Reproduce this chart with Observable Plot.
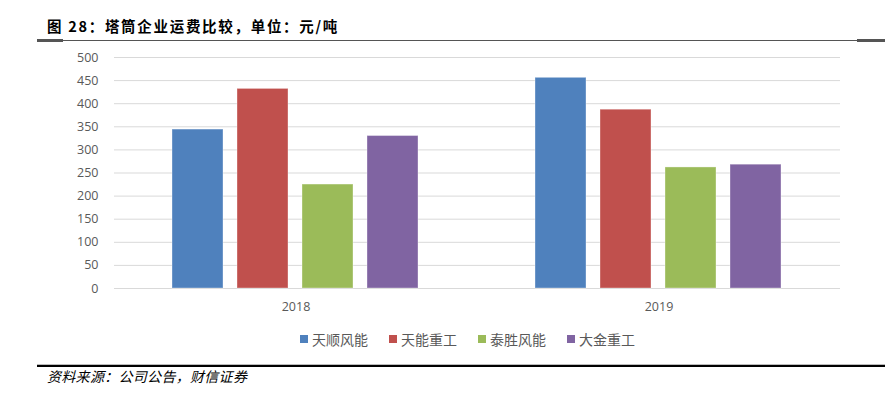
<!DOCTYPE html>
<html><head><meta charset="utf-8">
<script src="https://cdn.jsdelivr.net/npm/d3@7"></script>
<script src="https://cdn.jsdelivr.net/npm/@observablehq/plot@0.6"></script>
<style>
body{margin:0;background:#fff;width:885px;height:397px;position:relative;overflow:hidden;font-family:"Noto Sans CJK SC",sans-serif}
#title{position:absolute;left:47px;top:16px;font-size:14.5px;line-height:20px;font-weight:bold;letter-spacing:1.7px;color:#000;white-space:nowrap}
.ln{position:absolute}
#chart{position:absolute;left:0;top:45px}
#legend{position:absolute;left:300px;top:322px}
#legend [class*="-swatches"]{font-family:"Noto Sans CJK SC",sans-serif !important;font-size:14px !important;color:#595959 !important;margin:0 !important;display:flex;}
#legend [class*="-swatch"]{margin-right:21px !important;}
#legend [class*="-swatch"] > svg{margin-right:4px !important;}
#caption{position:absolute;left:47px;top:366px;font-size:14px;line-height:20px;font-style:italic;color:#000;letter-spacing:0.3px;white-space:nowrap}
</style></head>
<body>
<div id="title">图 28：塔筒企业运费比较，单位：元/吨</div>
<div class="ln" style="left:37px;top:40px;width:848px;height:1px;background:#555"></div>
<div class="ln" style="left:37px;top:39px;width:26px;height:3px;background:#555"></div>
<div class="ln" style="left:857px;top:39px;width:28px;height:3px;background:#555"></div>
<div id="chart"></div>
<div id="legend"></div>
<div class="ln" style="left:37px;top:364px;width:848px;height:1px;background:#bbb"></div>
<div class="ln" style="left:37px;top:365px;width:848px;height:2px;background:#000"></div>
<div id="caption">资料来源：公司公告，财信证券</div>
<script>
const years = ["2018", "2019"];
const companies = ["天顺风能", "天能重工", "泰胜风能", "大金重工"];
const values2018 = [344, 432, 225, 330];
const values2019 = [456, 387, 262, 268];
const colors = ["#4f81bd", "#c0504d", "#9bbb59", "#8064a2"];
const yTicks = [0, 50, 100, 150, 200, 250, 300, 350, 400, 450, 500];

const data = [];
[values2018, values2019].forEach((vals, i) => {
  companies.forEach((c, j) => data.push({year: years[i], company: c, value: vals[j]}));
});

const plot = Plot.plot({
  width: 885,
  height: 280,
  marginTop: 12,
  marginBottom: 37,
  marginLeft: 113,
  marginRight: 45,
  style: {fontFamily: "'Open Sans', sans-serif", fontSize: "12.5px", color: "#595959", background: "transparent"},
  fx: {domain: years, padding: 0, label: null, axis: "bottom", tickSize: 0, tickPadding: 14},
  x: {domain: companies, paddingInner: 0.21, paddingOuter: 0.865, axis: null},
  y: {domain: [0, 500], ticks: yTicks, tickSize: 0, tickPadding: 16, label: null},
  color: {domain: companies, range: colors},
  marks: [
    Plot.ruleY(yTicks, {y: d => d, stroke: "#d9d9d9", strokeWidth: 1}),
    Plot.barY(data, {fx: "year", x: "company", y: "value", fill: "company", stroke: "#ffffff", strokeOpacity: 0.35, strokeWidth: 1})
  ]
});
document.getElementById("chart").appendChild(plot);

const legend = Plot.legend({
  color: {domain: companies, range: colors},
  legend: "swatches",
  swatchSize: 8
});
document.getElementById("legend").appendChild(legend);
</script>
</body></html>
